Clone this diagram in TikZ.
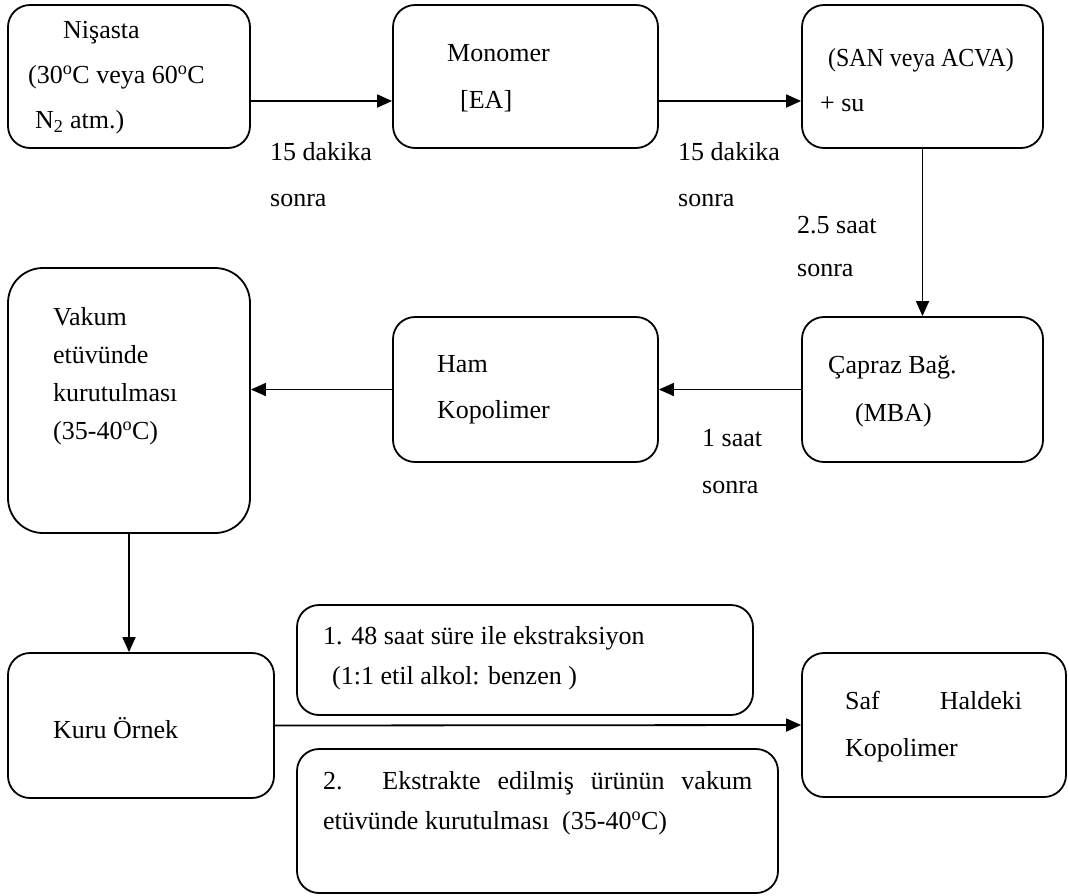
\documentclass[tikz,border=0pt]{standalone}
\usepackage{fontspec}
\setmainfont{Liberation Serif}
\usetikzlibrary{arrows.meta}
\begin{document}
\begin{tikzpicture}[x=1pt,y=-1pt,
  box/.style={draw, line width=1.8pt, rounded corners=22pt, inner sep=0pt},
  txt/.style={anchor=west, inner sep=0pt, align=left},
  arr/.style={line width=1.8pt, -{Triangle[length=15pt,width=13pt]}}]
\useasboundingbox (0,0) rectangle (1069,895);
% boxes
\node[box, minimum width=242pt, minimum height=143pt] (b1) at (129,76.5) {};
\node[box, minimum width=265pt, minimum height=143pt] (b2) at (525.5,76.5) {};
\node[box, minimum width=241pt, minimum height=143pt] (b3) at (922.5,76.5) {};
\node[box, minimum width=241pt, minimum height=145pt] (b4) at (922.5,389.5) {};
\node[box, minimum width=265pt, minimum height=145pt] (ham) at (525.5,389.5) {};
\node[box, rounded corners=35pt, minimum width=242pt, minimum height=265pt] (vak) at (129,400.5) {};
\node[box, minimum width=266pt, minimum height=145pt] (kuru) at (141,725.5) {};
\node[box, minimum width=456pt, minimum height=110pt] (ba) at (525,660) {};
\node[box, minimum width=481pt, minimum height=144pt] (bb) at (537.5,821) {};
\node[box, minimum width=264pt, minimum height=144pt] (saf) at (934,725) {};
% texts
\node[txt, font=\fontsize{26}{45}\selectfont] (t1) at (28,77.5) {\hspace*{35pt}Nişasta\\(30\textsuperscript{o}C veya 60\textsuperscript{o}C\\\hspace*{7pt}N\textsubscript{2} atm.)};
\node[txt, font=\fontsize{26}{47}\selectfont] (t2) at (447,78.5) {Monomer\\\hspace*{13pt}[EA]};
\node[txt, font=\fontsize{26}{45}\selectfont] (t3) at (820,80.5) {\hspace*{8pt}\scalebox{0.92}[1]{(SAN veya ACVA)}\\+ su};
\node[txt, font=\fontsize{26}{48}\selectfont] (t4) at (828,391) {Çapraz Bağ.\\\hspace*{27pt}(MBA)};
\node[txt, font=\fontsize{26}{46}\selectfont] (th) at (437,390) {Ham\\Kopolimer};
\node[txt, font=\fontsize{26}{38}\selectfont] (tv) at (53,376.5) {Vakum\\etüvünde\\kurutulması\\(35-40\textsuperscript{o}C)};
\node[txt, font=\fontsize{26}{40}\selectfont] (tk) at (53,728) {Kuru Örnek};
\node[txt, font=\fontsize{26}{40}\selectfont] (ta) at (323,658) {1. 48 saat süre ile ekstraksiyon\\\hspace*{9pt}(1:1 etil alkol: benzen )};
\node[txt, font=\fontsize{26}{40}\selectfont] (tb) at (323,803) {\makebox[429pt][s]{2. Ekstrakte edilmiş ürünün vakum}\\etüvünde kurutulması\ \ (35-40\textsuperscript{o}C)};
\node[txt, font=\fontsize{26}{47}\selectfont] (ts) at (845,726.5) {\makebox[177pt][s]{Saf Haldeki}\\Kopolimer};
% labels
\node[txt, font=\fontsize{26}{46}\selectfont] (l1) at (270,175) {15 dakika\\sonra};
\node[txt, font=\fontsize{26}{46}\selectfont] (l2) at (678,175) {15 dakika\\sonra};
\node[txt, font=\fontsize{26}{43}\selectfont] (l3) at (797,246.5) {2.5 saat\\sonra};
\node[txt, font=\fontsize{26}{47}\selectfont] (l4) at (702,461.5) {1 saat\\sonra};
% arrows
\draw[arr] ([yshift=-24.5pt]b1.east) -- ([yshift=-24.5pt]b2.west);
\draw[arr] ([yshift=-24.5pt]b2.east) -- ([yshift=-24.5pt]b3.west);
\draw[arr] (b3.south) -- (b4.north);
\draw[arr] (b4.west) -- (ham.east);
\draw[arr] (ham.west) -- (ham.west -| vak.east);
\draw[arr] (vak.south) -- (vak.south |- kuru.north);
\draw[arr] (kuru.east) -- (saf.west);
\end{tikzpicture}
\end{document}
